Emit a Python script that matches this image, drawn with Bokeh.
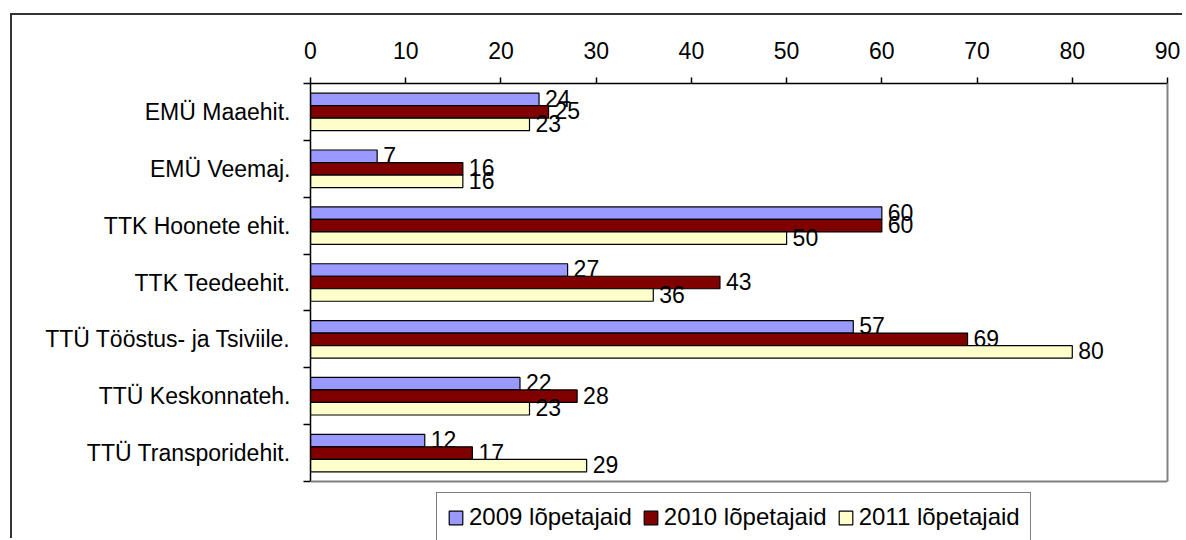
from bokeh.plotting import figure
from bokeh.models import Range1d, FixedTicker, Legend, LegendItem, LinearAxis, Span
from bokeh.core.properties import value
from bokeh.embed import file_html
from bokeh.resources import INLINE

categories = ["EMÜ Maaehit.", "EMÜ Veemaj.", "TTK Hoonete ehit.", "TTK Teedeehit.",
              "TTÜ Tööstus- ja Tsiviile.", "TTÜ Keskonnateh.", "TTÜ Transporidehit."]
series = ["2009 lõpetajaid", "2010 lõpetajaid", "2011 lõpetajaid"]
v2009 = [24, 7, 60, 27, 57, 22, 12]
v2010 = [25, 16, 60, 43, 69, 28, 17]
v2011 = [23, 16, 50, 36, 80, 23, 29]
x_ticks = [0, 10, 20, 30, 40, 50, 60, 70, 80, 90]

colors = ["#9999FF", "#800000", "#FFFFCC"]
FONT = "Liberation Sans"

n = len(categories)
plot_px = 398.0          # height of the category area in pixels
extra_px = 59.0          # area below the categories (legend zone)
y_bottom = n + extra_px * n / plot_px

p = figure(width=1172, height=525, output_backend="svg", toolbar_location=None,
           x_range=Range1d(0, 90), y_range=Range1d(y_bottom, 0), x_axis_location="above",
           min_border_left=298, min_border_right=17, min_border_top=68, min_border_bottom=0)
p.margin = (13, 0, 0, 10)
p.styles = {"border-left": "2px solid #333333", "border-top": "2px solid #333333"}
p.grid.visible = False
p.outline_line_color = None
p.background_fill_color = "white"
p.border_fill_color = "white"

# x axis (top)
xa = p.xaxis[0]
xa.ticker = FixedTicker(ticks=x_ticks, minor_ticks=[])
xa.major_tick_out = 6
xa.major_tick_in = 0
xa.axis_line_color = "black"
xa.axis_line_width = 1.5
xa.major_tick_line_color = "black"
xa.major_tick_line_width = 1.5
xa.major_label_text_font = FONT
xa.major_label_text_font_size = "23px"
xa.major_label_text_color = "black"
xa.major_label_standoff = 19

# y axis (left), category labels at centers, ticks at boundaries
centers = [i + 0.5 for i in range(n)]
ya = p.yaxis[0]
ya.bounds = (0, n)
ya.ticker = FixedTicker(ticks=centers, minor_ticks=list(range(n + 1)))
ya.major_label_overrides = {c: name for c, name in zip(centers, categories)}
ya.major_tick_line_color = None
ya.major_tick_out = 0
ya.major_tick_in = 0
ya.minor_tick_out = 7
ya.minor_tick_in = 0
ya.minor_tick_line_color = "black"
ya.minor_tick_line_width = 1.5
ya.axis_line_color = "black"
ya.axis_line_width = 1.5
ya.major_label_text_font = FONT
ya.major_label_text_font_size = "23px"
ya.major_label_text_color = "black"
ya.major_label_standoff = 13

# right edge of plot area (gray)
ra = LinearAxis(bounds=(0, n), ticker=FixedTicker(ticks=[], minor_ticks=[]),
                axis_line_color="#808080", axis_line_width=2,
                major_tick_line_color=None, minor_tick_line_color=None,
                major_label_text_font_size="0px", major_label_standoff=0,
                major_tick_out=0, minor_tick_out=0)
p.add_layout(ra, "right")
# bottom edge of plot area (gray)
p.add_layout(Span(location=n, dimension="width", line_color="#808080", line_width=2))

bar_h = 0.22
offsets = [-bar_h, 0.0, bar_h]
renderers = []
for vals, off, col in zip([v2009, v2010, v2011], offsets, colors):
    ys = [c + off for c in centers]
    r = p.hbar(y=ys, right=vals, left=0, height=bar_h, fill_color=col,
               line_color="black", line_width=1.2)
    renderers.append(r)
    p.text(x=vals, y=ys, text=[str(v) for v in vals], x_offset=6, y_offset=-1,
           text_baseline="middle", text_align="left",
           text_font=value(FONT), text_font_size="23px", text_color="black")

legend = Legend(items=[LegendItem(label=s, renderers=[r]) for s, r in zip(series, renderers)],
                orientation="horizontal", location=(126, -2))
legend.label_text_font = FONT
legend.label_text_font_size = "24px"
legend.label_text_color = "black"
legend.glyph_width = 17
legend.glyph_height = 17
legend.label_standoff = 5
legend.spacing = 10
legend.padding = 10
legend.margin = 0
legend.label_height = 22
legend.border_line_color = "black"
legend.border_line_width = 1
legend.background_fill_color = "white"
legend.background_fill_alpha = 1
p.add_layout(legend, "center")

open("out.html", "w").write(file_html(p, INLINE))
